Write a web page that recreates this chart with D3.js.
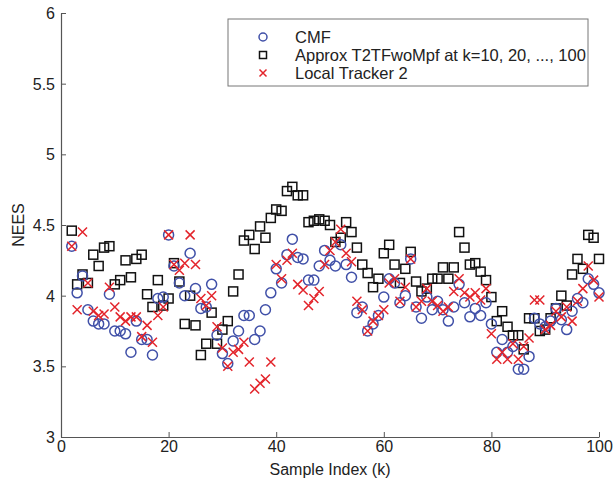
<!DOCTYPE html>
<html><head><meta charset="utf-8">
<script src="https://cdn.jsdelivr.net/npm/d3@7"></script>
<style>body{margin:0;background:#fff;} svg{display:block;}</style>
</head><body>
<script>
const kIndex = d3.range(2, 101);
const cmf = [4.35,4.02,4.14,3.90,3.82,3.80,3.80,4.01,3.75,3.75,3.73,3.60,3.82,3.69,3.69,3.58,3.98,3.99,4.43,4.21,4.09,4.00,4.30,4.05,3.91,3.92,4.08,3.72,3.59,3.52,3.68,3.75,3.86,3.86,3.69,3.75,3.90,4.02,4.19,4.09,4.29,4.40,4.27,4.26,4.11,4.11,4.21,4.32,4.25,4.21,4.36,4.22,4.13,3.88,3.92,3.75,3.80,3.86,3.99,4.12,4.09,3.95,4.00,4.26,3.92,3.84,3.99,3.90,3.96,3.90,3.82,3.92,4.08,3.95,3.85,3.91,3.86,3.95,3.80,3.60,3.69,3.60,3.64,3.48,3.48,3.57,3.84,3.80,3.78,3.82,3.91,3.83,3.76,3.89,3.98,3.95,4.12,4.08,4.02];
const t2tf = [4.46,4.08,4.15,4.09,4.29,4.21,4.34,4.35,4.08,4.11,4.25,4.13,4.26,4.29,4.01,3.92,4.11,3.93,3.98,4.23,4.10,3.80,4.00,3.79,3.58,3.66,3.88,3.66,3.76,3.82,4.03,4.15,4.39,4.43,4.33,4.49,4.41,4.55,4.61,4.60,4.74,4.77,4.71,4.71,4.52,4.53,4.54,4.53,4.50,4.38,4.41,4.52,4.45,4.34,4.22,4.16,4.06,4.12,4.30,4.36,4.22,4.09,4.19,4.31,4.10,4.03,4.05,4.12,4.12,4.20,4.12,4.20,4.45,4.34,4.22,4.23,4.17,4.11,3.99,3.82,3.89,3.78,3.72,3.72,3.62,3.84,3.84,3.75,3.76,3.84,3.91,4.00,3.93,4.15,4.26,4.19,4.43,4.41,4.26];
const local2 = [4.35,3.90,4.45,4.09,3.89,3.86,3.87,4.06,3.92,3.85,3.82,3.85,3.85,3.71,3.79,3.67,3.86,3.92,4.43,4.22,4.18,4.23,4.43,4.22,3.98,3.93,4.00,3.78,3.63,3.50,3.60,3.62,3.67,3.53,3.34,3.38,3.41,3.53,4.22,4.12,4.25,4.30,4.08,4.04,3.93,3.98,4.03,4.22,4.32,4.38,4.47,4.30,4.24,3.96,3.90,3.75,3.82,3.86,3.90,4.09,4.12,3.96,4.06,4.26,3.92,3.96,4.05,3.96,3.93,3.89,3.92,4.03,4.12,4.02,3.99,4.02,3.97,4.05,3.73,3.55,3.60,3.55,3.66,3.55,3.64,3.70,3.97,3.97,3.76,3.79,3.89,3.85,3.92,3.82,3.96,4.05,4.21,4.11,3.99];
const xTicks = [0,20,40,60,80,100];
const yTicks = [3,3.5,4,4.5,5,5.5,6];
const legendLabels = ["CMF","Approx T2TFwoMpf at k=10, 20, ..., 100","Local Tracker 2"];

const W = 614, H = 485;
const L = 61, R = 599, T = 13, B = 437;
const font = "'Liberation Sans', Arial, sans-serif";
const axisCol = "#555";
const blue = "#4050a8", red = "#e3242b", black = "#111";

const svg = d3.select("body").append("svg").attr("width", W).attr("height", H);
const x = d3.scaleLinear().domain([0,100]).range([L,R]);
const y = d3.scaleLinear().domain([3,6]).range([B,T]);

const gx = svg.append("g").attr("transform", `translate(0,${B})`)
  .call(d3.axisBottom(x).tickValues(xTicks).tickSizeInner(-5).tickSizeOuter(0).tickPadding(4).tickFormat(d => String(d)));
const gy = svg.append("g").attr("transform", `translate(${L},0)`)
  .call(d3.axisLeft(y).tickValues(yTicks).tickSizeInner(-5).tickSizeOuter(0).tickPadding(6).tickFormat(d => String(d)));
[gx, gy].forEach(g => {
  g.select(".domain").attr("stroke", axisCol).attr("stroke-width", 1.2);
  g.selectAll(".tick line").attr("stroke", axisCol).attr("stroke-width", 1);
  g.selectAll(".tick text").attr("fill", "#222").style("font-family", font).style("font-size", "16px");
});
gy.selectAll(".tick text").attr("dy", "0.35em");

svg.append("text").attr("x", (L+R)/2).attr("y", 475).attr("text-anchor","middle")
  .style("font-family", font).style("font-size","16px").attr("fill","#222").text("Sample Index (k)");
svg.append("text").attr("transform", `translate(24,${(T+B)/2}) rotate(-90)`).attr("text-anchor","middle")
  .style("font-family", font).style("font-size","16px").attr("fill","#222").text("NEES");

const sw = 1.5;
// squares
svg.append("g").selectAll("rect").data(t2tf).join("rect")
  .attr("x", (d,i) => x(kIndex[i]) - 4.5).attr("y", d => y(d) - 4.5)
  .attr("width", 9).attr("height", 9).attr("fill","none").attr("stroke", black).attr("stroke-width", sw);
// circles
svg.append("g").selectAll("circle").data(cmf).join("circle")
  .attr("cx", (d,i) => x(kIndex[i])).attr("cy", d => y(d)).attr("r", 5)
  .attr("fill","none").attr("stroke", blue).attr("stroke-width", sw);
// crosses
const cross = (cx, cy, s) => `M${cx-s},${cy-s}L${cx+s},${cy+s}M${cx-s},${cy+s}L${cx+s},${cy-s}`;
svg.append("g").selectAll("path").data(local2).join("path")
  .attr("d", (d,i) => cross(x(kIndex[i]), y(d), 4.5))
  .attr("fill","none").attr("stroke", red).attr("stroke-width", sw);

// legend
const lg = svg.append("g");
lg.append("rect").attr("x", 228).attr("y", 19).attr("width", 360).attr("height", 67)
  .attr("fill","#fff").attr("stroke","#777").attr("stroke-width",1);
const rowY = [37, 55, 73];
const mx = 263, tx = 295;
lg.append("circle").attr("cx", mx).attr("cy", rowY[0]).attr("r", 4).attr("fill","none").attr("stroke", blue).attr("stroke-width", sw);
lg.append("rect").attr("x", mx-3.5).attr("y", rowY[1]-3.5).attr("width",7).attr("height",7).attr("fill","none").attr("stroke", black).attr("stroke-width", sw);
lg.append("path").attr("d", cross(mx, rowY[2], 3.5)).attr("stroke", red).attr("stroke-width", sw).attr("fill","none");
lg.selectAll("text").data(legendLabels).join("text")
  .attr("x", tx).attr("y", (d,i) => rowY[i]).attr("dy","0.35em")
  .style("font-family", font).style("font-size","16.5px").attr("fill","#222").text(d => d);
</script>
</body></html>
